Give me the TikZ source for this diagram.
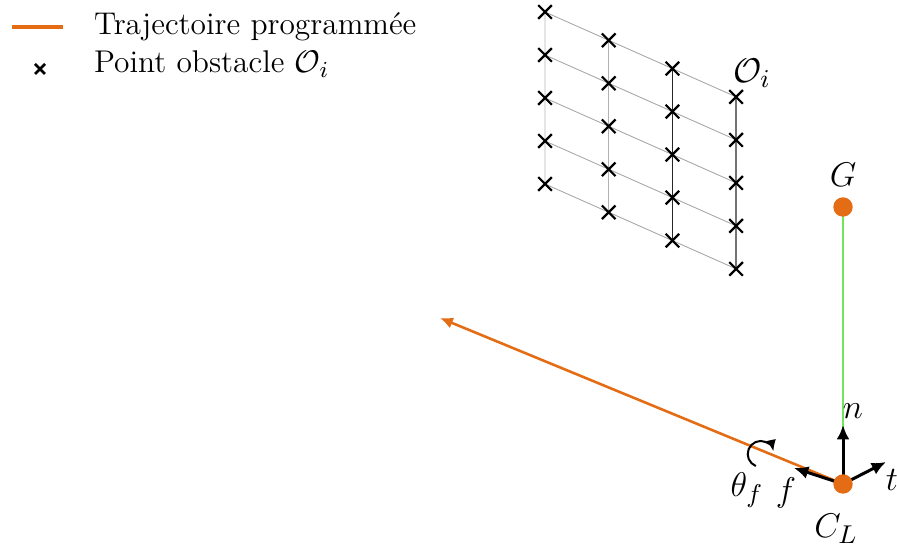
\documentclass[tikz,border=0pt]{standalone}
\usepackage{amsmath,amssymb}
\usepackage{tikz}
\usetikzlibrary{
    arrows.meta,
    calc,
    shapes.misc
}
\definecolor{trajorange}{RGB}{228,108,20}
\definecolor{linkgreen}{RGB}{110,232,90}
\tikzset{
    obstacle/.style={cross out,draw,line width=0.75pt,minimum size=4pt,inner sep=0pt},
    traj/.style={trajorange,line width=0.9pt},
    frame/.style={line width=1.05pt,-{Latex[length=5pt,width=4.5pt]}},
    point/.style={circle,fill=trajorange,minimum size=6.8pt,inner sep=0pt},
    lab/.style={font=\fontsize{12.5}{14}\selectfont}
}

\begin{document}
\begin{tikzpicture}[x=0.35pt,y=0.35pt,font=\fontsize{11}{13}\selectfont]
\useasboundingbox (0,0) rectangle (897,550);

% Legend
\coordinate (legA) at (12,523);
\coordinate (legB) at (63,523);
\draw[trajorange,line width=1.4pt] (legA) -- (legB);
\node[anchor=base west] (legtraj) at (84,515) {Trajectoire programmée};
\node[cross out,draw,line width=0.9pt,minimum size=2.6pt,inner sep=0pt] (legcross) at (40,481) {};
\node[anchor=base west] (legobs) at (84,477) {Point obstacle $\mathcal{O}_i$};

% Obstacle grid
\foreach \c in {0,...,3}{
  \foreach \r in {0,...,4}{
    \coordinate (p\c\r) at ({545+63.7*\c},{538-28.3*\c-43*\r});
  }
}
\foreach \c/\shade in {0/10,1/30,2/85,3/55}{
  \draw[black!\shade,line width=0.5pt] (p\c0) -- (p\c4);
}
\foreach \c [evaluate=\c as \d using int(\c+1)] in {0,1,2}{
  \foreach \r in {0,...,4}{
    \draw[gray!70,line width=0.3pt] (p\c\r) -- (p\d\r);
  }
}
\foreach \c in {0,...,3}{
  \foreach \r in {0,...,4}{
    \node[obstacle] (o\c\r) at (p\c\r) {};
  }
}
\node[lab] (gridlabel) at (752,477) {$\mathcal{O}_i$};

% Points
\coordinate (G) at (843,343);
\coordinate (CL) at (843,66);
\coordinate (trajend) at (440,232);
\coordinate (ntip) at (843,125);
\coordinate (ttip) at (886,88);
\coordinate (ftip) at (794,82);

% Link and trajectory
\draw[linkgreen,line width=0.6pt] (G) -- (CL);
\draw[traj,-{Latex[length=4.5pt,width=4pt]}] (CL) -- (trajend);

% Local frame
\draw[frame] (CL) -- (ntip);
\draw[frame] (CL) -- (ttip);
\draw[frame] (CL) -- (ftip);

% Rotation
\coordinate (rot) at (760.7,96);
\coordinate (rotstart) at ($(rot)+(248:13)$);
\draw[line width=0.7pt,-{Latex[length=4pt,width=3.5pt]}] (rotstart) arc[start angle=248,end angle=12,radius=13];

% Circles
\node[point] (Gdot) at (G) {};
\node[point] (CLdot) at (CL) {};

% Labels
\node[lab] (Glabel) at (843,375) {$G$};
\node[lab] (nlabel) at (853,139) {$n$};
\node[lab] (tlabel) at (892,70) {$t$};
\node[lab] (flabel) at (786,57) {$f$};
\node[lab] (thlabel) at (747,60) {$\theta_f$};
\node[lab] (CLlabel) at (836,21) {$C_L$};

\end{tikzpicture}
\end{document}
